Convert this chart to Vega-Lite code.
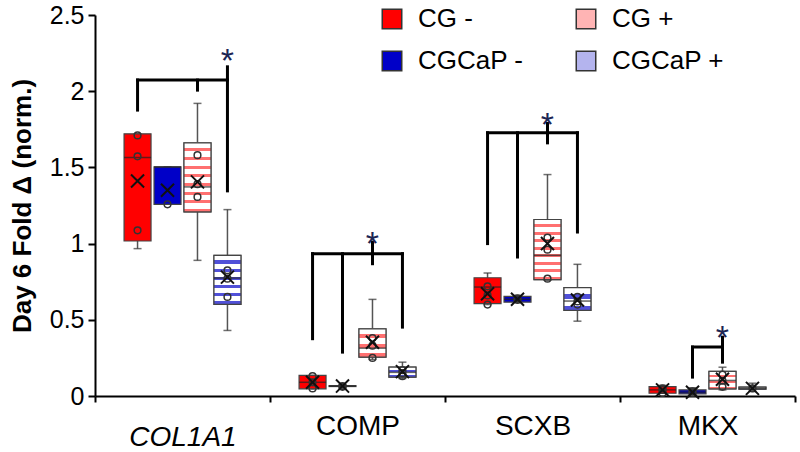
{
  "$schema": "https://vega.github.io/schema/vega-lite/v6.json",
  "width": 700,
  "height": 381,
  "autosize": {"type": "none"},
  "padding": {"left": 95, "top": 15, "right": 5, "bottom": 56},
  "config": {
    "font": "Liberation Sans",
    "view": {"stroke": null},
    "axis": {"grid": false, "domainColor": "black", "tickColor": "black", "labelColor": "black", "titleColor": "black", "domainWidth": 2, "tickWidth": 2},
    "legend": {"labelFontSize": 26, "labelColor": "black", "labelLimit": 300}
  },
  "datasets": {
    "boxes": [
      {"gene": "COL1A1", "cond": "CG -", "lo": 0.967, "q1": 1.017, "med": 1.565, "q3": 1.72, "hi": 1.72, "mean": 1.411},
      {"gene": "COL1A1", "cond": "CGCaP -", "lo": 1.258, "q1": 1.258, "med": 1.503, "q3": 1.503, "hi": 1.503, "mean": 1.35},
      {"gene": "COL1A1", "cond": "CG +", "lo": 0.89, "q1": 1.208, "med": 1.372, "q3": 1.661, "hi": 1.92, "mean": 1.405},
      {"gene": "COL1A1", "cond": "CGCaP +", "lo": 0.43, "q1": 0.601, "med": 0.774, "q3": 0.923, "hi": 1.223, "mean": 0.78},
      {"gene": "COMP", "cond": "CG -", "lo": 0.047, "q1": 0.047, "med": 0.09, "q3": 0.135, "hi": 0.135, "mean": 0.09},
      {"gene": "COMP", "cond": "CGCaP -", "lo": 0.05, "q1": 0.062, "med": 0.065, "q3": 0.068, "hi": 0.075, "mean": 0.065},
      {"gene": "COMP", "cond": "CG +", "lo": 0.24, "q1": 0.255, "med": 0.314, "q3": 0.441, "hi": 0.634, "mean": 0.353},
      {"gene": "COMP", "cond": "CGCaP +", "lo": 0.115, "q1": 0.124, "med": 0.155, "q3": 0.19, "hi": 0.222, "mean": 0.16},
      {"gene": "SCXB", "cond": "CG -", "lo": 0.6, "q1": 0.606, "med": 0.715, "q3": 0.776, "hi": 0.807, "mean": 0.671},
      {"gene": "SCXB", "cond": "CGCaP -", "lo": 0.615, "q1": 0.616, "med": 0.635, "q3": 0.654, "hi": 0.66, "mean": 0.635},
      {"gene": "SCXB", "cond": "CG +", "lo": 0.76, "q1": 0.763, "med": 0.923, "q3": 1.158, "hi": 1.453, "mean": 1.0},
      {"gene": "SCXB", "cond": "CGCaP +", "lo": 0.491, "q1": 0.562, "med": 0.623, "q3": 0.711, "hi": 0.864, "mean": 0.63},
      {"gene": "MKX", "cond": "CG -", "lo": 0.018, "q1": 0.018, "med": 0.04, "q3": 0.062, "hi": 0.07, "mean": 0.04},
      {"gene": "MKX", "cond": "CGCaP -", "lo": 0.014, "q1": 0.014, "med": 0.025, "q3": 0.04, "hi": 0.054, "mean": 0.025},
      {"gene": "MKX", "cond": "CG +", "lo": 0.04, "q1": 0.047, "med": 0.102, "q3": 0.161, "hi": 0.189, "mean": 0.11},
      {"gene": "MKX", "cond": "CGCaP +", "lo": 0.03, "q1": 0.045, "med": 0.05, "q3": 0.058, "hi": 0.084, "mean": 0.05}
    ],
    "points": [
      {"gene": "COL1A1", "cond": "CG -", "v": 1.71},
      {"gene": "COL1A1", "cond": "CG -", "v": 1.573},
      {"gene": "COL1A1", "cond": "CG -", "v": 1.087},
      {"gene": "COL1A1", "cond": "CGCaP -", "v": 1.258},
      {"gene": "COL1A1", "cond": "CG +", "v": 1.58},
      {"gene": "COL1A1", "cond": "CG +", "v": 1.39},
      {"gene": "COL1A1", "cond": "CG +", "v": 1.306},
      {"gene": "COL1A1", "cond": "CGCaP +", "v": 0.825},
      {"gene": "COL1A1", "cond": "CGCaP +", "v": 0.77},
      {"gene": "COL1A1", "cond": "CGCaP +", "v": 0.65},
      {"gene": "COMP", "cond": "CG -", "v": 0.13},
      {"gene": "COMP", "cond": "CG -", "v": 0.09},
      {"gene": "COMP", "cond": "CG -", "v": 0.05},
      {"gene": "COMP", "cond": "CGCaP -", "v": 0.065},
      {"gene": "COMP", "cond": "CGCaP -", "v": 0.06},
      {"gene": "COMP", "cond": "CG +", "v": 0.38},
      {"gene": "COMP", "cond": "CG +", "v": 0.33},
      {"gene": "COMP", "cond": "CG +", "v": 0.25},
      {"gene": "COMP", "cond": "CGCaP +", "v": 0.17},
      {"gene": "COMP", "cond": "CGCaP +", "v": 0.15},
      {"gene": "COMP", "cond": "CGCaP +", "v": 0.13},
      {"gene": "SCXB", "cond": "CG -", "v": 0.72},
      {"gene": "SCXB", "cond": "CG -", "v": 0.66},
      {"gene": "SCXB", "cond": "CG -", "v": 0.6},
      {"gene": "SCXB", "cond": "CGCaP -", "v": 0.64},
      {"gene": "SCXB", "cond": "CGCaP -", "v": 0.63},
      {"gene": "SCXB", "cond": "CG +", "v": 1.04},
      {"gene": "SCXB", "cond": "CG +", "v": 0.96},
      {"gene": "SCXB", "cond": "CG +", "v": 0.77},
      {"gene": "SCXB", "cond": "CGCaP +", "v": 0.65},
      {"gene": "SCXB", "cond": "CGCaP +", "v": 0.62},
      {"gene": "SCXB", "cond": "CGCaP +", "v": 0.6},
      {"gene": "MKX", "cond": "CG -", "v": 0.05},
      {"gene": "MKX", "cond": "CG -", "v": 0.04},
      {"gene": "MKX", "cond": "CG -", "v": 0.02},
      {"gene": "MKX", "cond": "CGCaP -", "v": 0.03},
      {"gene": "MKX", "cond": "CGCaP -", "v": 0.02},
      {"gene": "MKX", "cond": "CG +", "v": 0.14},
      {"gene": "MKX", "cond": "CG +", "v": 0.1},
      {"gene": "MKX", "cond": "CG +", "v": 0.06},
      {"gene": "MKX", "cond": "CGCaP +", "v": 0.05}
    ],
    "brackets": [
      {"id": "a1", "gene": "COL1A1", "cond": "CG -", "v": 1.876},
      {"id": "a1", "gene": "COL1A1", "cond": "CG -", "v": 2.073},
      {"id": "a2", "gene": "COL1A1", "cond": "CG -", "v": 2.073},
      {"id": "a2", "gene": "COL1A1", "cond": "CGCaP +", "v": 2.073},
      {"id": "a3", "gene": "COL1A1", "cond": "CG +", "v": 2.073},
      {"id": "a3", "gene": "COL1A1", "cond": "CG +", "v": 2.007},
      {"id": "a4", "gene": "COL1A1", "cond": "CGCaP +", "v": 2.16},
      {"id": "a4", "gene": "COL1A1", "cond": "CGCaP +", "v": 1.346},
      {"id": "b1", "gene": "COMP", "cond": "CG -", "v": 0.934},
      {"id": "b1", "gene": "COMP", "cond": "CG -", "v": 0.376},
      {"id": "b2", "gene": "COMP", "cond": "CGCaP -", "v": 0.934},
      {"id": "b2", "gene": "COMP", "cond": "CGCaP -", "v": 0.288},
      {"id": "b3", "gene": "COMP", "cond": "CGCaP +", "v": 0.934},
      {"id": "b3", "gene": "COMP", "cond": "CGCaP +", "v": 0.452},
      {"id": "b4", "gene": "COMP", "cond": "CG -", "v": 0.934},
      {"id": "b4", "gene": "COMP", "cond": "CGCaP +", "v": 0.934},
      {"id": "b5", "gene": "COMP", "cond": "CG +", "v": 1.01},
      {"id": "b5", "gene": "COMP", "cond": "CG +", "v": 0.868},
      {"id": "c1", "gene": "SCXB", "cond": "CG -", "v": 1.727},
      {"id": "c1", "gene": "SCXB", "cond": "CG -", "v": 1.0},
      {"id": "c2", "gene": "SCXB", "cond": "CGCaP -", "v": 1.727},
      {"id": "c2", "gene": "SCXB", "cond": "CGCaP -", "v": 0.912},
      {"id": "c3", "gene": "SCXB", "cond": "CGCaP +", "v": 1.727},
      {"id": "c3", "gene": "SCXB", "cond": "CGCaP +", "v": 1.076},
      {"id": "c4", "gene": "SCXB", "cond": "CG -", "v": 1.727},
      {"id": "c4", "gene": "SCXB", "cond": "CGCaP +", "v": 1.727},
      {"id": "c5", "gene": "SCXB", "cond": "CG +", "v": 1.788},
      {"id": "c5", "gene": "SCXB", "cond": "CG +", "v": 1.661},
      {"id": "d1", "gene": "MKX", "cond": "CGCaP -", "v": 0.321},
      {"id": "d1", "gene": "MKX", "cond": "CGCaP -", "v": 0.124},
      {"id": "d2", "gene": "MKX", "cond": "CGCaP -", "v": 0.321},
      {"id": "d2", "gene": "MKX", "cond": "CG +", "v": 0.321},
      {"id": "d3", "gene": "MKX", "cond": "CG +", "v": 0.386},
      {"id": "d3", "gene": "MKX", "cond": "CG +", "v": 0.222}
    ],
    "stars": [
      {"gene": "COL1A1", "cond": "CGCaP +", "v": 2.237},
      {"gene": "COMP", "cond": "CG +", "v": 1.034},
      {"gene": "SCXB", "cond": "CG +", "v": 1.82},
      {"gene": "MKX", "cond": "CG +", "v": 0.42}
    ]
  },
  "encoding": {
    "x": {
      "field": "gene", "type": "nominal", "sort": ["COL1A1", "COMP", "SCXB", "MKX"],
      "scale": {"type": "band", "paddingInner": 0, "paddingOuter": 0},
      "axis": {
        "title": null, "labelAngle": 0, "labelFontSize": 28, "tickBand": "extent", "tickSize": 6,
        "labelFontStyle": {"condition": {"test": "datum.value === 'COL1A1'", "value": "italic"}, "value": "normal"},
        "labelPadding": {"condition": {"test": "datum.value === 'COL1A1'", "value": 21}, "value": 10}
      }
    },
    "xOffset": {
      "field": "cond", "type": "nominal", "sort": ["CG -", "CGCaP -", "CG +", "CGCaP +"],
      "scale": {"paddingInner": 0.1, "paddingOuter": 0.97}
    }
  },
  "layer": [
    {
      "data": {"name": "boxes"},
      "mark": {"type": "rule", "color": "#555", "strokeWidth": 1.5},
      "encoding": {"y": {"field": "lo", "type": "quantitative"}, "y2": {"field": "hi"}}
    },
    {
      "data": {"name": "boxes"},
      "mark": {"type": "tick", "color": "#333", "size": 8, "thickness": 1.5},
      "encoding": {"y": {"field": "lo", "type": "quantitative"}}
    },
    {
      "data": {"name": "boxes"},
      "mark": {"type": "tick", "color": "#333", "size": 8, "thickness": 1.5},
      "encoding": {"y": {"field": "hi", "type": "quantitative"}}
    },
    {
      "data": {"name": "boxes"},
      "mark": {"type": "bar", "stroke": "#444", "strokeWidth": 1.2},
      "encoding": {
        "y": {
          "field": "q1", "type": "quantitative",
          "scale": {"domain": [0, 2.5], "nice": false},
          "axis": {
            "title": "Day 6 Fold Δ (norm.)", "titleFontSize": 26, "titleFontWeight": "bold", "titlePadding": 14,
            "values": [0, 0.5, 1, 1.5, 2, 2.5], "format": "~g", "labelFontSize": 25, "tickSize": 7, "labelPadding": 4
          }
        },
        "y2": {"field": "q3"},
        "fill": {
          "field": "cond", "type": "nominal",
          "scale": {"domain": ["CG -", "CGCaP -", "CG +", "CGCaP +"], "range": ["#ff0000", "#0000c8", "#ffb4b4", "#b4b4ee"]},
          "legend": {
            "title": null, "orient": "none", "legendX": 284, "legendY": -9, "columns": 2, "gridAlign": "all",
            "symbolType": "square", "symbolSize": 380, "symbolStrokeColor": "#333", "symbolStrokeWidth": 1.5,
            "labelFontSize": 26, "labelColor": "black", "labelOffset": 13, "columnPadding": 43, "rowPadding": 16, "padding": 0
          }
        }
      }
    },
    {
      "data": {"name": "boxes"},
      "transform": [{"filter": "datum.cond === 'CG +' || datum.cond === 'CGCaP +'"}],
      "mark": {"type": "bar", "stroke": "#444", "strokeWidth": 1.2},
      "encoding": {
        "y": {"field": "q1", "type": "quantitative"},
        "y2": {"field": "q3"},
        "fill": {
          "condition": [
            {"test": "datum.cond === 'CG +' && (datum.gene === 'COL1A1' || datum.gene === 'SCXB')",
             "value": {"gradient": "linear", "x1": 0, "y1": 0, "x2": 0, "y2": 1, "stops": [
               {"offset": 0, "color": "#ffffff"}, {"offset": 0.08, "color": "#ffffff"}, {"offset": 0.08, "color": "#ff7070"}, {"offset": 0.125, "color": "#ff7070"},
               {"offset": 0.125, "color": "#ffffff"}, {"offset": 0.205, "color": "#ffffff"}, {"offset": 0.205, "color": "#ff7070"}, {"offset": 0.25, "color": "#ff7070"},
               {"offset": 0.25, "color": "#ffffff"}, {"offset": 0.33, "color": "#ffffff"}, {"offset": 0.33, "color": "#ff7070"}, {"offset": 0.375, "color": "#ff7070"},
               {"offset": 0.375, "color": "#ffffff"}, {"offset": 0.455, "color": "#ffffff"}, {"offset": 0.455, "color": "#ff7070"}, {"offset": 0.5, "color": "#ff7070"},
               {"offset": 0.5, "color": "#ffffff"}, {"offset": 0.58, "color": "#ffffff"}, {"offset": 0.58, "color": "#ff7070"}, {"offset": 0.625, "color": "#ff7070"},
               {"offset": 0.625, "color": "#ffffff"}, {"offset": 0.705, "color": "#ffffff"}, {"offset": 0.705, "color": "#ff7070"}, {"offset": 0.75, "color": "#ff7070"},
               {"offset": 0.75, "color": "#ffffff"}, {"offset": 0.83, "color": "#ffffff"}, {"offset": 0.83, "color": "#ff7070"}, {"offset": 0.875, "color": "#ff7070"},
               {"offset": 0.875, "color": "#ffffff"}, {"offset": 0.955, "color": "#ffffff"}, {"offset": 0.955, "color": "#ff7070"}, {"offset": 1, "color": "#ff7070"}
             ]}},
            {"test": "datum.cond === 'CG +'",
             "value": {"gradient": "linear", "x1": 0, "y1": 0, "x2": 0, "y2": 1, "stops": [
               {"offset": 0, "color": "#ffffff"}, {"offset": 0.2, "color": "#ffffff"}, {"offset": 0.2, "color": "#ff7070"}, {"offset": 0.333, "color": "#ff7070"},
               {"offset": 0.333, "color": "#ffffff"}, {"offset": 0.533, "color": "#ffffff"}, {"offset": 0.533, "color": "#ff7070"}, {"offset": 0.667, "color": "#ff7070"},
               {"offset": 0.667, "color": "#ffffff"}, {"offset": 0.867, "color": "#ffffff"}, {"offset": 0.867, "color": "#ff7070"}, {"offset": 1, "color": "#ff7070"}
             ]}},
            {"test": "datum.gene === 'COL1A1'",
             "value": {"gradient": "linear", "x1": 0, "y1": 0, "x2": 0, "y2": 1, "stops": [
               {"offset": 0, "color": "#ffffff"}, {"offset": 0.105, "color": "#ffffff"}, {"offset": 0.105, "color": "#5050d8"}, {"offset": 0.1667, "color": "#5050d8"},
               {"offset": 0.1667, "color": "#ffffff"}, {"offset": 0.2717, "color": "#ffffff"}, {"offset": 0.2717, "color": "#5050d8"}, {"offset": 0.3333, "color": "#5050d8"},
               {"offset": 0.3333, "color": "#ffffff"}, {"offset": 0.4383, "color": "#ffffff"}, {"offset": 0.4383, "color": "#5050d8"}, {"offset": 0.5, "color": "#5050d8"},
               {"offset": 0.5, "color": "#ffffff"}, {"offset": 0.605, "color": "#ffffff"}, {"offset": 0.605, "color": "#5050d8"}, {"offset": 0.6667, "color": "#5050d8"},
               {"offset": 0.6667, "color": "#ffffff"}, {"offset": 0.7717, "color": "#ffffff"}, {"offset": 0.7717, "color": "#5050d8"}, {"offset": 0.8333, "color": "#5050d8"},
               {"offset": 0.8333, "color": "#ffffff"}, {"offset": 0.9383, "color": "#ffffff"}, {"offset": 0.9383, "color": "#5050d8"}, {"offset": 1, "color": "#5050d8"}
             ]}}
          ],
          "value": {"gradient": "linear", "x1": 0, "y1": 0, "x2": 0, "y2": 1, "stops": [
            {"offset": 0, "color": "#ffffff"}, {"offset": 0.3, "color": "#ffffff"}, {"offset": 0.3, "color": "#5050d8"}, {"offset": 0.5, "color": "#5050d8"},
            {"offset": 0.5, "color": "#ffffff"}, {"offset": 0.8, "color": "#ffffff"}, {"offset": 0.8, "color": "#5050d8"}, {"offset": 1, "color": "#5050d8"}
          ]}
        }
      }
    },
    {
      "data": {"name": "boxes"},
      "mark": {"type": "tick", "color": "#222", "size": 27, "thickness": 1.5},
      "encoding": {"y": {"field": "med", "type": "quantitative"}}
    },
    {
      "data": {"name": "points"},
      "mark": {"type": "point", "shape": "circle", "filled": false, "size": 45, "stroke": "#333", "strokeWidth": 1.5, "opacity": 1},
      "encoding": {"y": {"field": "v", "type": "quantitative"}}
    },
    {
      "data": {"name": "boxes"},
      "mark": {"type": "point", "shape": "M-1,-1L1,1M-1,1L1,-1", "filled": false, "size": 170, "stroke": "#111", "strokeWidth": 2, "opacity": 1},
      "encoding": {"y": {"field": "mean", "type": "quantitative"}}
    },
    {
      "data": {"name": "brackets"},
      "mark": {"type": "line", "color": "black", "strokeWidth": 3, "strokeCap": "square"},
      "encoding": {"y": {"field": "v", "type": "quantitative"}, "detail": {"field": "id"}}
    },
    {
      "data": {"name": "stars"},
      "mark": {"type": "text", "text": "*", "fontSize": 34, "color": "#1c2654", "baseline": "middle", "dy": 7},
      "encoding": {"y": {"field": "v", "type": "quantitative"}}
    }
  ]
}
